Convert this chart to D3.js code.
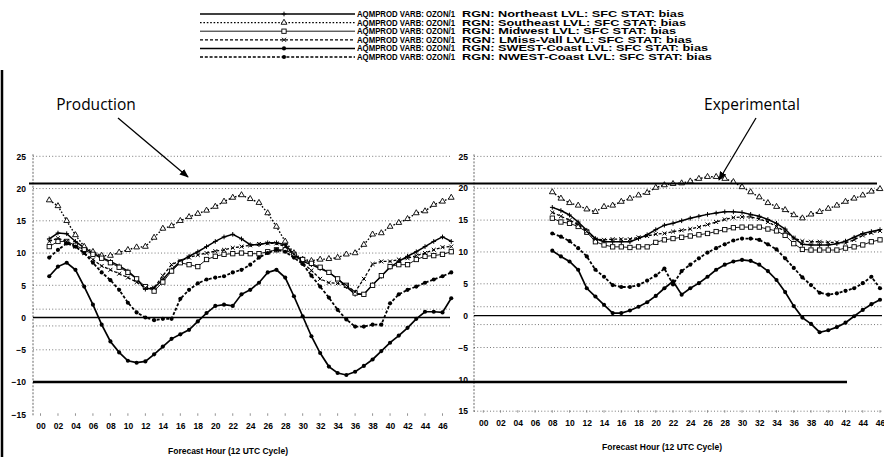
<!DOCTYPE html>
<html><head><meta charset="utf-8">
<script src="https://cdn.jsdelivr.net/npm/d3@7"></script>
<style>body{margin:0;background:#fff}svg{display:block}</style>
</head><body>
<svg id="c" width="884" height="457"></svg>
<script>
// ---------------- DATA ----------------
const hoursLeft = d3.range(1, 48);   // Production: forecast hours 01..47
const hoursRight = d3.range(8, 47);  // Experimental: forecast hours 08..46
const xTickHours = d3.range(0, 47, 2);
const yTicks = [25, 20, 15, 10, 5, 0, -5, -10, -15];
const regions = ["Northeast", "Southeast", "Midwest", "LMiss-Vall", "SWEST-Coast", "NWEST-Coast"];
const panelTitles = ["Production", "Experimental"];
const xAxisTitle = "Forecast Hour (12 UTC Cycle)";
const referenceLevels = [20.8, 0, -10];

const prodNortheast = [12.2,13.1,13.0,11.8,10.8,10.0,9.3,8.7,8.0,7.2,6.0,4.4,4.6,5.9,7.4,8.7,9.5,10.2,11.0,11.8,12.5,12.9,12.2,11.3,11.3,11.6,11.6,11.3,9.8,8.7,8.2,7.6,7.0,6.0,4.8,3.6,3.6,5.1,6.4,7.8,8.7,9.5,10.2,11.0,11.8,12.5,11.8];
const prodSoutheast = [18.2,17.3,15.0,12.8,11.0,10.2,9.6,9.6,10.1,10.5,10.9,11.0,12.4,13.8,14.2,15.0,15.6,16.1,16.6,17.2,18.0,18.6,19.0,18.4,17.8,16.2,14.1,11.8,10.0,9.0,8.8,9.0,9.1,9.3,9.8,10.0,11.3,12.9,13.1,14.1,14.7,15.3,16.2,16.5,17.5,18.0,18.6];
const prodMidwest = [11.0,11.8,11.8,11.2,10.5,9.8,9.2,8.5,7.8,7.0,6.0,4.8,4.1,5.5,7.2,8.5,8.2,7.9,9.0,9.5,9.8,9.9,10.0,9.9,9.9,10.2,10.5,10.5,9.8,9.0,8.4,7.8,7.0,6.0,5.0,3.8,3.6,5.0,6.5,7.9,8.2,8.2,9.0,9.5,9.6,9.8,10.2];
const prodLMiss = [11.8,12.3,11.8,11.0,10.0,9.0,8.0,7.4,6.8,6.2,5.5,4.6,4.6,6.5,8.2,8.8,9.3,9.7,10.0,10.3,10.5,10.8,11.0,11.2,11.4,11.5,11.5,11.0,9.8,8.5,7.3,6.0,5.4,5.3,5.0,4.0,6.0,8.3,8.7,8.7,9.0,9.2,9.6,10.0,10.5,10.9,11.0];
const prodSWEST = [6.4,7.9,8.5,7.4,4.8,2.0,-1.1,-3.7,-5.4,-6.7,-7.0,-6.8,-5.7,-4.5,-3.3,-2.6,-1.9,-0.6,0.7,1.8,2.0,1.8,3.6,4.3,5.4,7.0,7.4,6.2,3.3,0.2,-2.9,-5.5,-7.6,-8.6,-8.9,-8.4,-7.5,-6.5,-5.2,-3.9,-2.8,-1.6,-0.2,0.9,0.9,0.8,3.0];
const prodNWEST = [9.3,10.5,11.5,11.0,10.0,8.5,7.0,5.8,4.3,2.3,0.8,0.0,-0.4,-0.2,-0.2,2.9,4.3,5.3,5.9,6.2,6.4,7.0,7.4,8.2,9.3,10.0,10.5,10.2,9.3,8.3,6.5,4.8,3.1,1.2,-0.3,-1.4,-1.4,-1.1,-1.1,2.2,3.6,4.3,4.8,5.4,5.9,6.4,7.0];

const expNortheast = [17.0,16.5,15.8,14.7,13.4,12.1,11.6,11.6,11.6,11.6,12.1,12.7,13.5,14.2,14.5,14.9,15.3,15.6,15.9,16.1,16.3,16.3,16.2,15.9,15.6,15.1,14.5,13.6,12.2,11.2,11.1,11.1,11.1,11.3,11.7,12.3,12.9,13.2,13.5];
const expSoutheast = [19.4,18.4,17.7,17.3,16.7,16.3,17.1,17.3,17.9,18.4,18.9,19.3,20.1,20.5,20.7,20.8,21.1,21.5,21.8,21.8,21.5,21.0,20.2,19.4,18.6,17.7,17.1,16.6,15.8,15.3,15.9,16.3,16.8,17.3,17.9,18.4,18.9,19.5,19.9];
const expMidwest = [15.3,14.7,14.5,14.0,13.1,11.6,11.1,10.8,10.8,10.7,10.8,10.8,11.5,11.9,12.1,12.3,12.5,12.7,12.9,13.2,13.5,13.8,13.9,13.9,13.9,13.6,13.3,12.6,11.3,10.4,10.3,10.3,10.3,10.3,10.6,10.8,11.1,11.6,11.9];
const expLMiss = [16.2,15.6,15.0,14.3,13.2,12.0,11.9,12.0,12.0,12.0,12.3,12.5,12.8,12.9,13.2,13.4,13.6,13.9,14.3,14.7,15.1,15.4,15.5,15.5,15.2,14.7,14.0,13.2,12.2,11.7,11.6,11.6,11.5,11.5,11.4,11.9,12.6,13.0,13.3];
const expSWEST = [10.2,9.3,8.5,7.2,4.3,3.0,1.7,0.4,0.4,0.8,1.4,2.1,3.1,4.3,5.4,3.3,4.3,5.1,6.1,7.2,8.0,8.5,8.75,8.6,8.0,7.0,5.6,3.7,1.5,-0.3,-1.3,-2.6,-2.3,-1.8,-1.1,-0.1,0.9,1.8,2.5];
const expNWEST = [12.9,12.4,11.7,10.6,9.3,7.2,6.1,4.8,4.5,4.5,4.8,5.5,6.3,7.4,4.9,7.0,8.0,9.0,9.9,10.6,11.2,11.8,12.1,12.1,11.9,11.2,10.4,9.0,7.5,6.0,4.8,3.6,3.3,3.5,3.9,4.3,5.1,6.1,4.3];

// ---------------- STYLES ----------------
const styles = [
  {dash: null,   width: 1.5, marker: "plus"},
  {dash: "1.6,1.8", width: 1.4, marker: "triangle"},
  {dash: null,   width: 0.9, marker: "square"},
  {dash: "3,2",  width: 1.3, marker: "x"},
  {dash: null,   width: 1.7, marker: "dot"},
  {dash: "3,1.8", width: 1.8, marker: "dot"}
];
const FONT = "'Liberation Sans', Arial, sans-serif";
const legendRowEnds = [684, 686, 676, 692, 708, 712];

const svg = d3.select("#c");
svg.append("defs").append("marker")
  .attr("id", "ah").attr("viewBox", "0 0 10 10").attr("refX", 9).attr("refY", 5)
  .attr("markerWidth", 7).attr("markerHeight", 7).attr("orient", "auto-start-reverse")
  .append("path").attr("d", "M0,1L10,5L0,9Z").attr("fill", "#000");

// ---------------- SCALES ----------------
const xL = d3.scaleLinear().domain([0, 46]).range([40.5, 442.5]);
const yL = d3.scaleLinear().domain([-15, 25]).range([414.3, 156.3]);
const xR = d3.scaleLinear().domain([0, 46]).range([483.3, 880]);
const yR = d3.scaleLinear().domain([-15, 25]).range([411.2, 156.4]);

function drawMarker(g, type, cx, cy, s) {
  s = s || 1;
  if (type === "plus") {
    g.append("path").attr("d", `M${cx-2.6*s},${cy}H${cx+2.6*s}M${cx},${cy-2.6*s}V${cy+2.6*s}`)
      .attr("stroke", "#000").attr("stroke-width", 1);
  } else if (type === "x") {
    g.append("path").attr("d", `M${cx-2.2*s},${cy-2.2*s}L${cx+2.2*s},${cy+2.2*s}M${cx-2.2*s},${cy+2.2*s}L${cx+2.2*s},${cy-2.2*s}`)
      .attr("stroke", "#000").attr("stroke-width", 1);
  } else if (type === "triangle") {
    g.append("path").attr("d", d3.symbol(d3.symbolTriangle, 18 * s * s)()).attr("transform", `translate(${cx},${cy})`)
      .attr("fill", "#fff").attr("stroke", "#000").attr("stroke-width", 0.9);
  } else if (type === "square") {
    g.append("rect").attr("x", cx - 2.4*s).attr("y", cy - 2.4*s).attr("width", 4.8*s).attr("height", 4.8*s)
      .attr("fill", "#fff").attr("stroke", "#000").attr("stroke-width", 0.9);
  } else {
    g.append("circle").attr("cx", cx).attr("cy", cy).attr("r", 2.3*s).attr("fill", "#000");
  }
}

function drawPanel(x, y, hours, seriesList, opts) {
  const g = svg.append("g");
  opts.grid.forEach(v => {
    g.append("line").attr("x1", opts.axisX).attr("x2", opts.gridEnd)
      .attr("y1", y(v)).attr("y2", y(v))
      .attr("stroke", "#555").attr("stroke-width", 0.8).attr("stroke-dasharray", "1,2.2");
  });
  g.append("line").attr("x1", opts.axisX).attr("x2", opts.axisX)
    .attr("y1", y(25) - 2).attr("y2", y(-15) + 2)
    .attr("stroke", "#555").attr("stroke-width", 0.9).attr("stroke-dasharray", "2,1.5");
  const ay = g.append("g").attr("transform", `translate(${opts.labelX},0)`)
    .call(d3.axisLeft(y).tickValues(yTicks).tickSize(0).tickPadding(0).tickFormat(opts.yFmt));
  ay.select(".domain").remove();
  ay.selectAll("text").attr("font-family", FONT).attr("font-weight", "bold")
    .attr("font-size", 8.5).attr("fill", "#000");
  const ax = g.append("g").attr("transform", `translate(0,${opts.xLabelY})`)
    .call(d3.axisBottom(x).tickValues(xTickHours).tickSize(0).tickPadding(0).tickFormat(d3.format("02d")));
  ax.select(".domain").remove();
  ax.selectAll("text").attr("font-family", FONT).attr("font-weight", "bold")
    .attr("font-size", 8.5).attr("fill", "#000").attr("dy", "0.71em");
  xTickHours.forEach(h => {
    g.append("line").attr("x1", x(h)).attr("x2", x(h)).attr("y1", y(-15) - 1).attr("y2", y(-15) + 1.5)
      .attr("stroke", "#777").attr("stroke-width", 0.8);
  });
  g.append("text").attr("x", opts.titleX).attr("y", opts.titleY).attr("text-anchor", "middle")
    .attr("font-family", FONT).attr("font-weight", "bold").attr("font-size", 8.5).text(xAxisTitle);

  seriesList.forEach((vals, i) => {
    const st = styles[i];
    const pts = hours.map((h, j) => [h, vals[j]]);
    const line = d3.line().x(d => x(d[0])).y(d => y(d[1]));
    g.append("path").datum(pts).attr("d", line).attr("fill", "none")
      .attr("stroke", "#000").attr("stroke-width", st.width)
      .attr("stroke-dasharray", st.dash);
    const mg = g.append("g");
    pts.forEach(d => drawMarker(mg, st.marker, x(d[0]), y(d[1]), 0.9));
  });
  return g;
}

// ---------------- PANELS ----------------
drawPanel(xL, yL, hoursLeft,
  [prodNortheast, prodSoutheast, prodMidwest, prodLMiss, prodSWEST, prodNWEST],
  {axisX: 33, gridEnd: 450, labelX: 26, grid: [25, 20, 15, 10, 5, 1.3, -1.3, -5],
   yFmt: d => d < 0 ? "\u2212" + (-d) : String(d), xLabelY: 423, titleX: 228, titleY: 454});

drawPanel(xR, yR, hoursRight,
  [expNortheast, expSoutheast, expMidwest, expLMiss, expSWEST, expNWEST],
  {axisX: 474, gridEnd: 882, labelX: 468, grid: [25, 20, 15, 10, 5, 1.4, -1.4, -5, -15],
   yFmt: d => d === -5 ? "\u22125" : String(Math.abs(d)), xLabelY: 420, titleX: 662, titleY: 450});

// ---------------- REFERENCE LINES ----------------
const ref = svg.append("g");
ref.append("line").attr("x1", 29).attr("x2", 877).attr("y1", yL(referenceLevels[0])).attr("y2", yL(referenceLevels[0]))
  .attr("stroke", "#000").attr("stroke-width", 2);
ref.append("line").attr("x1", 33).attr("x2", 450).attr("y1", yL(referenceLevels[1])).attr("y2", yL(referenceLevels[1]))
  .attr("stroke", "#000").attr("stroke-width", 1.4);
ref.append("line").attr("x1", 474).attr("x2", 882).attr("y1", yR(referenceLevels[1])).attr("y2", yR(referenceLevels[1]))
  .attr("stroke", "#000").attr("stroke-width", 1.4);
ref.append("line").attr("x1", 33).attr("x2", 847).attr("y1", yL(referenceLevels[2])).attr("y2", yL(referenceLevels[2]))
  .attr("stroke", "#000").attr("stroke-width", 2.4);

svg.append("line").attr("x1", 2).attr("x2", 2).attr("y1", 70).attr("y2", 457)
  .attr("stroke", "#000").attr("stroke-width", 2.5);

// ---------------- ANNOTATIONS ----------------
svg.append("text").attr("x", 96).attr("y", 110).attr("text-anchor", "middle")
  .attr("font-family", "'Open Sans', sans-serif").attr("font-size", 15.5).text(panelTitles[0]);
svg.append("line").attr("x1", 118).attr("y1", 118).attr("x2", 188).attr("y2", 177)
  .attr("stroke", "#000").attr("stroke-width", 1.3).attr("marker-end", "url(#ah)");
svg.append("text").attr("x", 752).attr("y", 110).attr("text-anchor", "middle")
  .attr("font-family", "'Open Sans', sans-serif").attr("font-size", 15.5).text(panelTitles[1]);
svg.append("line").attr("x1", 756).attr("y1", 118).attr("x2", 719).attr("y2", 180)
  .attr("stroke", "#000").attr("stroke-width", 1.3).attr("marker-end", "url(#ah)");

// ---------------- LEGEND ----------------
const lg = svg.append("g");
regions.forEach((r, i) => {
  const st = styles[i];
  const yy = 14 + i * 8.6;
  lg.append("line").attr("x1", 200).attr("x2", 355).attr("y1", yy).attr("y2", yy)
    .attr("stroke", "#000").attr("stroke-width", Math.min(st.width, 1.5)).attr("stroke-dasharray", st.dash);
  drawMarker(lg, st.marker, 284, yy, 0.9);
  lg.append("text").attr("x", 357).attr("y", yy + 3).attr("font-family", FONT).attr("font-weight", "bold")
    .attr("font-size", 8.5).attr("textLength", 98).attr("lengthAdjust", "spacingAndGlyphs")
    .text("AQMPROD VARB: OZON/1");
  lg.append("text").attr("x", 462).attr("y", yy + 3).attr("font-family", FONT).attr("font-weight", "bold")
    .attr("font-size", 8.5).attr("textLength", legendRowEnds[i] - 462).attr("lengthAdjust", "spacingAndGlyphs")
    .text(`RGN: ${r} LVL: SFC STAT: bias`);
});
</script>
</body></html>
